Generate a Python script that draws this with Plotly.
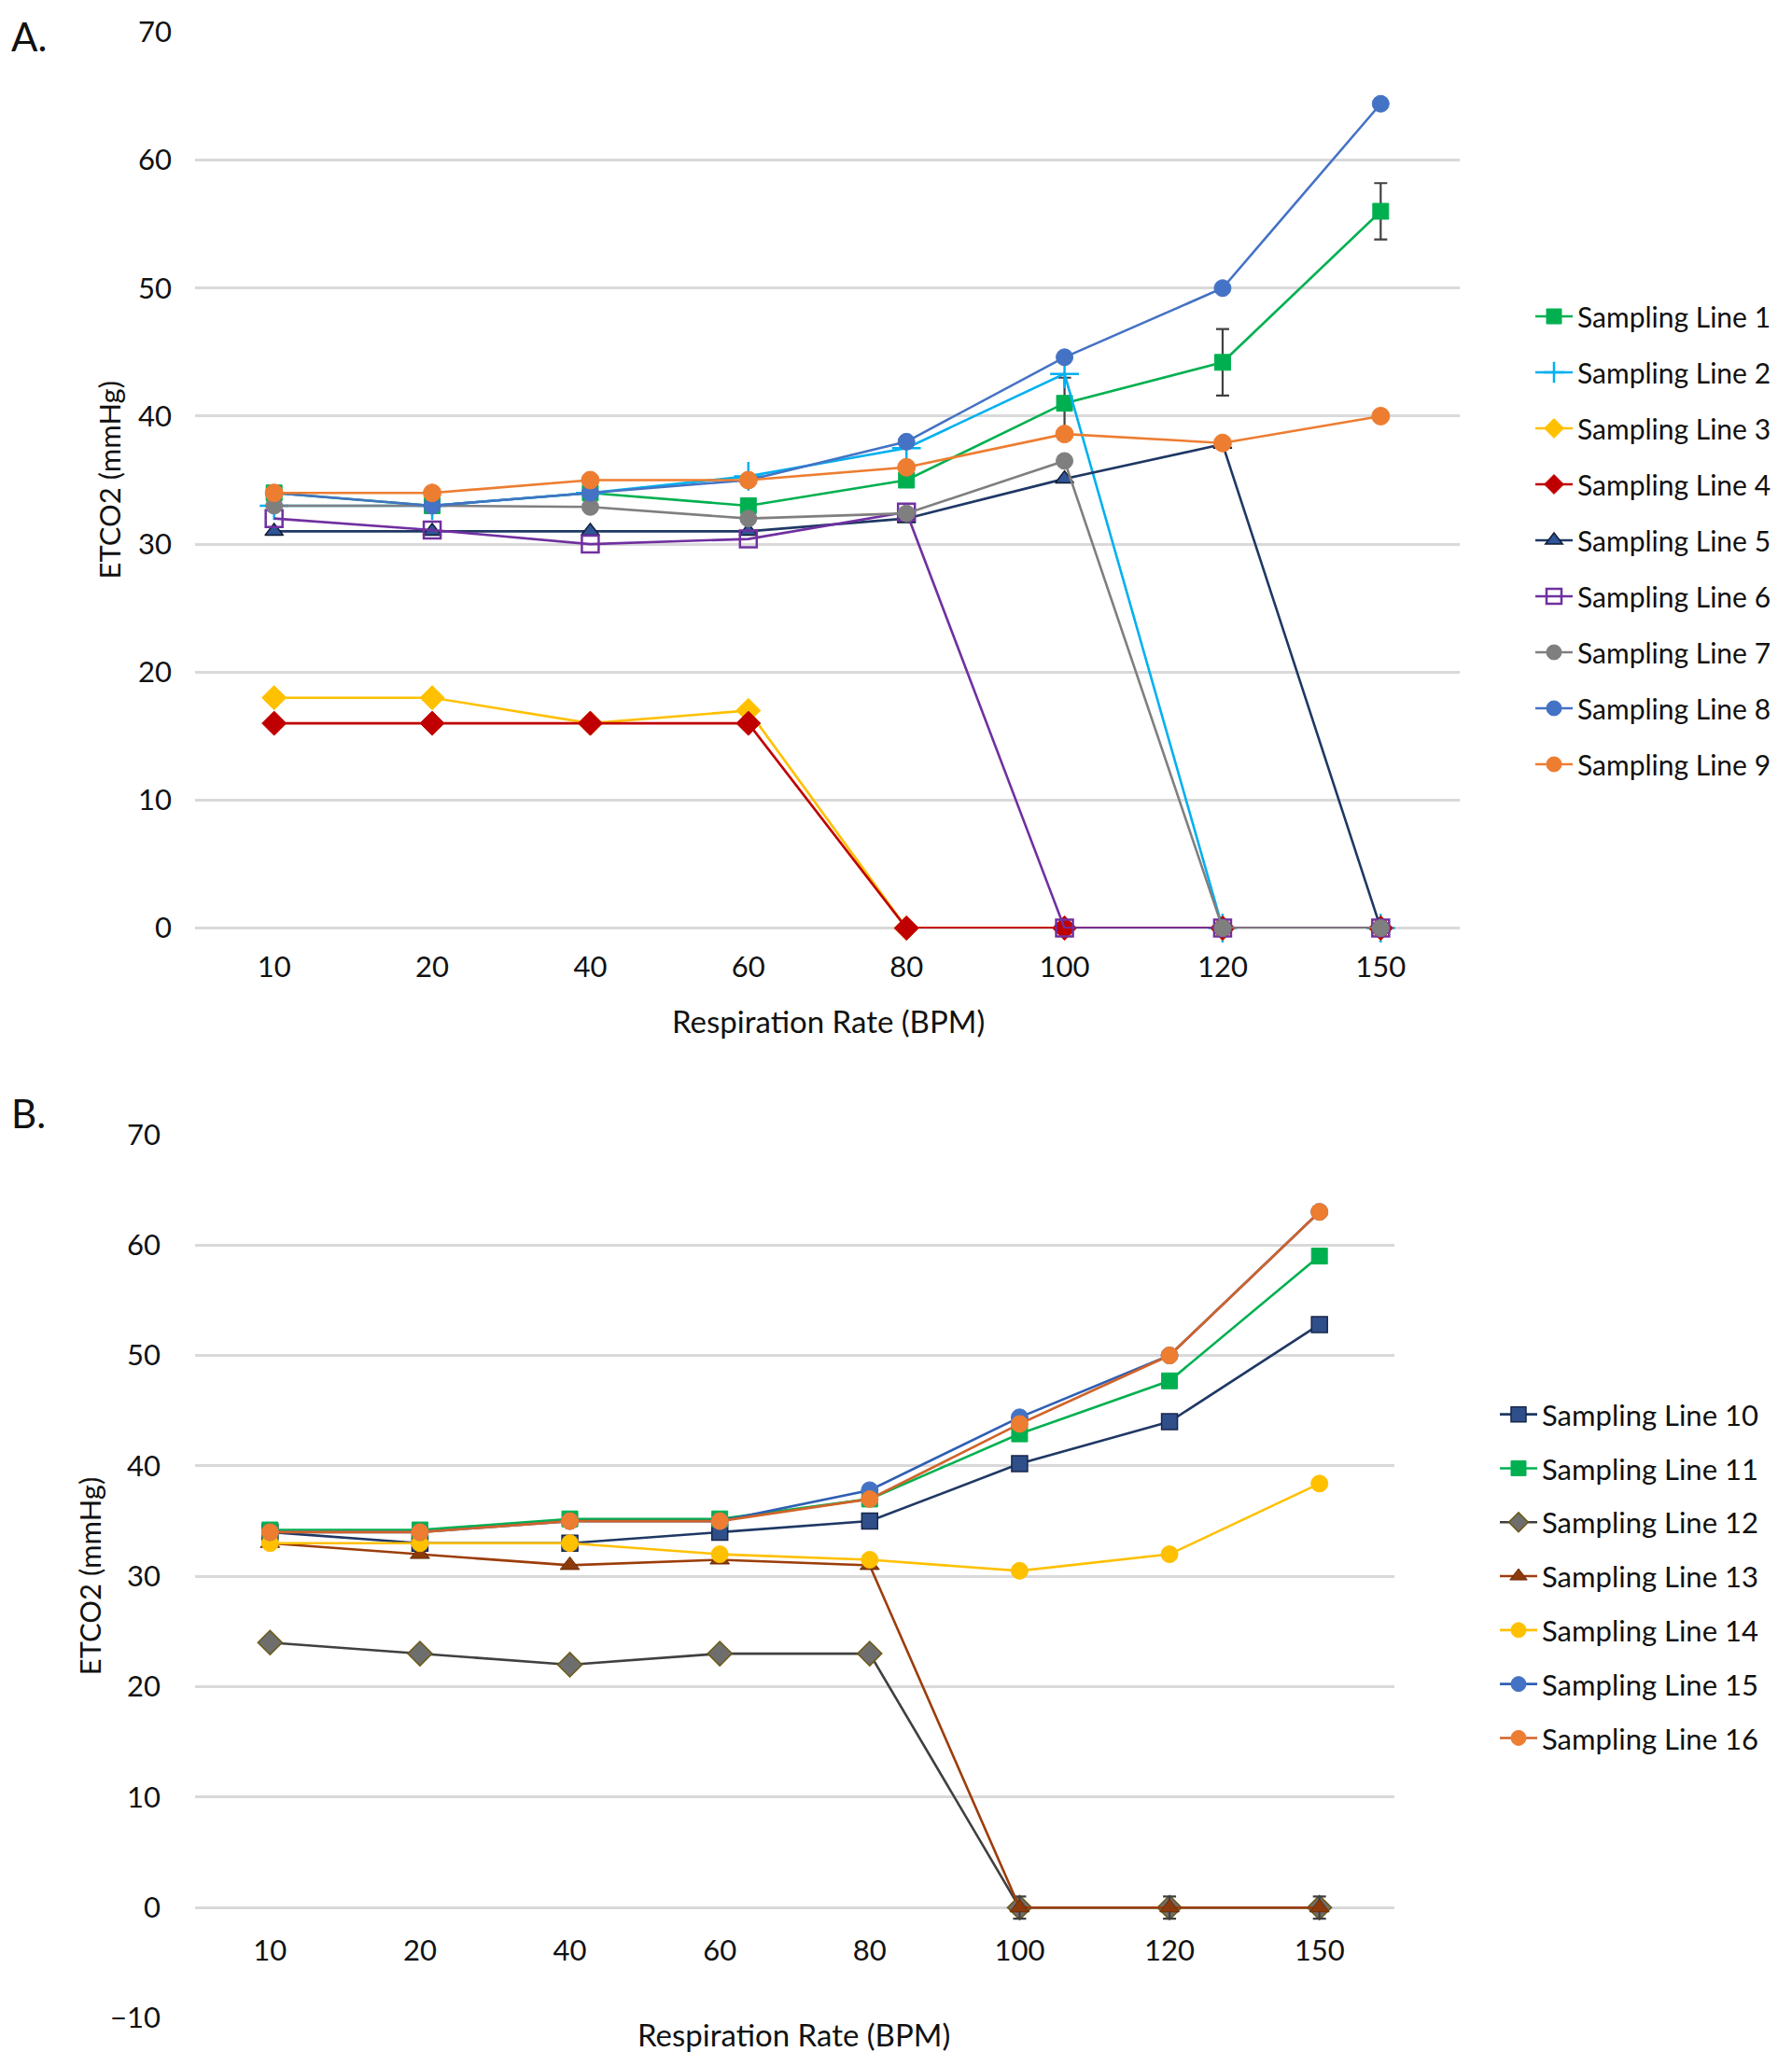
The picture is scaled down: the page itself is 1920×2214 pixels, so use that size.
import plotly.graph_objects as go

# ---------------- data ----------------
rates = ["10", "20", "40", "60", "80", "100", "120", "150"]

# Panel A
line1 = [34, 33, 34, 33, 35, 41, 44.2, 56]
line1_err = [0, 0, 0, 0, 0, 2.0, 2.6, 2.2]
line2 = [33, 33, 34, 35.3, 37.5, 43.3, 0, 0]
line3 = [18, 18, 16, 17, 0, 0, 0, 0]
line4 = [16, 16, 16, 16, 0, 0, 0, 0]
line5 = [31, 31, 31, 31, 32, 35.1, 37.8, 0]
line6 = [32, 31.1, 30, 30.4, 32.5, 0, 0, 0]
line7 = [33, 33, 32.9, 32, 32.4, 36.5, 0, 0]
line8 = [34, 33, 34, 35, 38, 44.6, 50, 64.4]
line9 = [34, 34, 35, 35, 36, 38.6, 37.9, 40]

# Panel B
line10 = [34, 33, 33, 34, 35, 40.2, 44, 52.8]
line11 = [34.2, 34.2, 35.2, 35.2, 37, 42.9, 47.7, 59]
line12 = [24, 23, 22, 23, 23, 0, 0, 0]
line13 = [33, 32, 31, 31.5, 31, 0, 0, 0]
line13_err = [0, 0, 0, 0, 0, 1.0, 1.0, 1.0]
line14 = [33, 33, 33, 32, 31.5, 30.5, 32, 38.4]
line15 = [34, 34, 35, 35, 37.8, 44.4, 50, 63]
line16 = [34, 34, 35, 35, 37, 43.8, 50, 63]

names_a = ["Sampling Line %d" % i for i in range(1, 10)]
names_b = ["Sampling Line %d" % i for i in range(10, 17)]

# ---------------- styling ----------------
FONT = "Lato"
TXT = "#111111"
GRID = "#d9d9d9"
FS = 31

OFF = 8              # page body margin
W, H = 1920 - 2 * OFF, 2214 - 2 * OFF

fig = go.Figure()


def add(y, name, color, symbol, size, fill=None, edge=None, edgew=1, xa="x", ya="y",
        leg="legend", grp=None, err=None, lw=2.6):
    mk = dict(symbol=symbol, size=size, color=fill if fill else color,
              line=dict(color=edge if edge else (fill if fill else color), width=edgew))
    kw = {}
    if err is not None:
        kw["error_y"] = dict(type="data", array=err, visible=True, color="#404040",
                             thickness=2.2, width=7)
    fig.add_trace(go.Scatter(
        x=rates, y=y, name=name, mode="lines+markers",
        line=dict(color=color, width=lw), marker=mk,
        xaxis=xa, yaxis=ya, legend=leg, legendgroup=grp or name,
        cliponaxis=False, **kw))


# Panel A traces
add(line1, names_a[0], "#00b050", "square", 17, err=line1_err)
add(line2, names_a[1], "#00b0f0", "cross-thin", 22, edge="#00b0f0", edgew=2.5)
add(line3, names_a[2], "#ffc000", "diamond", 20)
add(line4, names_a[3], "#c00000", "diamond", 20)
add(line5, names_a[4], "#1f3864", "triangle-up", 17, fill="#2f5597", edge="#111a33", edgew=1.5)
add(line6, names_a[5], "#7030a0", "square-open", 18, edge="#7030a0", edgew=2.5)
add(line7, names_a[6], "#7f7f7f", "circle", 18, fill="#7f7f7f")
add(line8, names_a[7], "#4472c4", "circle", 18, fill="#4472c4")
add(line9, names_a[8], "#ed7d31", "circle", 19, fill="#ed7d31")

# Panel B traces
add(line10, names_b[0], "#1f3864", "square", 17, fill="#2f4f8a", edge="#16264a", edgew=1.5,
    xa="x2", ya="y2", leg="legend2")
add(line11, names_b[1], "#00b050", "square", 17, xa="x2", ya="y2", leg="legend2")
add(line12, names_b[2], "#404040", "diamond", 20, fill="#6e6e6e", edge="#6b5a14", edgew=1.5,
    xa="x2", ya="y2", leg="legend2")
add(line13, names_b[3], "#9c3d0a", "triangle-up", 18, fill="#8b3a0c", edge="#6b2b06", edgew=1,
    xa="x2", ya="y2", leg="legend2", err=line13_err)
add(line14, names_b[4], "#ffc000", "circle", 18, xa="x2", ya="y2", leg="legend2")
add(line15, names_b[5], "#2f5fb3", "circle", 18, fill="#4472c4", xa="x2", ya="y2", leg="legend2")
add(line16, names_b[6], "#d0632a", "circle", 18, fill="#ed7d31", xa="x2", ya="y2", leg="legend2")

# ---------------- layout (positions given in page pixels) ----------------
def px_x(p):
    return (p - OFF) / W


def px_y(p):
    return 1 - (p - OFF) / H


tickfont = dict(family=FONT, size=FS, color=TXT)

ya_dom = [px_y(995), px_y(34)]
yb_dom = [px_y(2163), px_y(1215.5)]
zero_b = yb_dom[0] + (10 / 80) * (yb_dom[1] - yb_dom[0])
EPS = 0.03

fig.update_layout(
    width=W, height=H,
    margin=dict(l=0, r=0, t=0, b=0, autoexpand=False),
    paper_bgcolor="white", plot_bgcolor="white",
    font=dict(family=FONT, size=FS, color=TXT),
    xaxis=dict(domain=[px_x(209), px_x(1564)], type="category", categoryorder="array",
               categoryarray=rates, range=[-0.5, 7.5], showgrid=False, zeroline=False,
               showline=False, ticks="", tickfont=tickfont, anchor="y",
               ticklabelstandoff=20, automargin=False),
    yaxis=dict(domain=ya_dom, range=[-EPS, 70 + EPS], dtick=10, tick0=0, showgrid=True,
               gridcolor=GRID, gridwidth=2.5, zeroline=True, zerolinecolor=GRID,
               zerolinewidth=2.5, showline=False, ticks="", tickfont=tickfont, anchor="x",
               ticklabelstandoff=24, automargin=False),
    xaxis2=dict(domain=[px_x(209), px_x(1494)], type="category", categoryorder="array",
                categoryarray=rates, range=[-0.5, 7.5], showgrid=False, zeroline=False,
                showline=False, ticks="", tickfont=tickfont, anchor="free",
                position=zero_b, ticklabelstandoff=24, automargin=False),
    yaxis2=dict(domain=yb_dom, range=[-10 - EPS, 70 + EPS], dtick=10, tick0=0, showgrid=True,
                gridcolor=GRID, gridwidth=2.5, zeroline=True, zerolinecolor=GRID,
                zerolinewidth=2.5, showline=False, ticks="", tickfont=tickfont, anchor="x2",
                ticklabelstandoff=36, automargin=False),
    legend=dict(x=px_x(1640), y=px_y(313), xanchor="left", yanchor="top",
                font=dict(family=FONT, size=30, color=TXT), bgcolor="rgba(0,0,0,0)",
                tracegroupgap=18, itemwidth=40),
    legend2=dict(x=px_x(1602), y=px_y(1489), xanchor="left", yanchor="top",
                 font=dict(family=FONT, size=FS, color=TXT), bgcolor="rgba(0,0,0,0)",
                 tracegroupgap=14.5, itemwidth=40),
    showlegend=True,
)

annos = [
    dict(text="A.", x=px_x(10), y=px_y(12), xanchor="left", yanchor="top", font=dict(size=42)),
    dict(text="B.", x=px_x(10), y=px_y(1166), xanchor="left", yanchor="top", font=dict(size=42)),
    dict(text="ETCO2 (mmHg)", x=px_x(116), y=(ya_dom[0] + ya_dom[1]) / 2, textangle=-90,
         xanchor="center", yanchor="middle", font=dict(size=FS)),
    dict(text="ETCO2 (mmHg)", x=px_x(96), y=(yb_dom[0] + yb_dom[1]) / 2, textangle=-90,
         xanchor="center", yanchor="middle", font=dict(size=FS)),
    dict(text="Respiration Rate (BPM)", x=px_x(887), y=px_y(1094), xanchor="center",
         yanchor="middle", font=dict(size=FS + 2)),
    dict(text="Respiration Rate (BPM)", x=px_x(850), y=px_y(2180), xanchor="center",
         yanchor="middle", font=dict(size=FS + 2)),
]
for a in annos:
    a.update(xref="paper", yref="paper", showarrow=False)
    a["font"] = dict(family=FONT, color=TXT, size=a["font"]["size"])
    fig.add_annotation(**a)

fig.write_html("out.html")
